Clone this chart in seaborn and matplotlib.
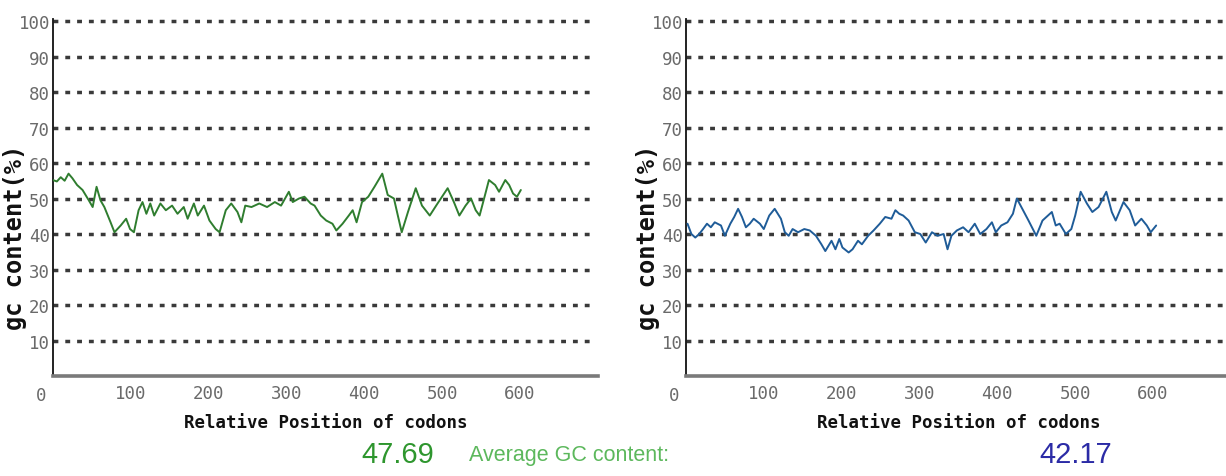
import matplotlib
matplotlib.use("Agg")
import matplotlib.pyplot as plt
import matplotlib.transforms as mtransforms
import numpy as np
import pandas as pd
import seaborn as sns

# GC content along the gene
left_pos = [0, 5, 10, 15, 20, 25, 31, 38, 46, 51, 56, 61, 66, 74, 79, 87, 94, 99, 104, 110,
            115, 120, 125, 130, 138, 145, 153, 160, 168, 173, 181, 186, 194, 201, 209, 214,
            222, 229, 237, 242, 247, 255, 265, 275, 285, 293, 303, 308, 316, 323, 331, 336,
            344, 351, 359, 364, 372, 380, 385, 390, 397, 405, 413, 423, 430, 438, 443, 448,
            456, 466, 474, 484, 494, 507, 515, 522, 530, 537, 543, 548, 555, 560, 568, 573,
            581, 586, 591, 596, 601]
left_gc = [55.2, 54.8, 56.0, 55.0, 57.0, 55.7, 53.8, 52.4, 49.5, 47.6, 53.3, 49.5, 47.6, 43.3,
           40.5, 42.4, 44.3, 41.4, 40.5, 46.7, 49.0, 45.7, 48.6, 45.2, 48.6, 46.7, 48.0, 45.7,
           47.6, 44.3, 48.6, 45.2, 48.0, 43.8, 41.4, 40.5, 46.7, 48.6, 46.2, 43.3, 48.0, 47.6,
           48.6, 47.6, 49.0, 48.0, 51.9, 49.0, 50.0, 50.5, 48.6, 48.0, 45.2, 43.8, 42.9, 41.0,
           42.9, 45.2, 46.7, 43.3, 49.0, 50.5, 53.3, 57.0, 51.0, 50.0, 45.2, 40.5, 46.2, 52.9,
           48.0, 45.2, 48.6, 52.9, 49.0, 45.2, 48.0, 50.0, 46.7, 45.2, 51.0, 55.2, 53.8, 51.9,
           55.2, 53.8, 51.4, 50.5, 52.4]

right_pos = [2, 7, 12, 17, 22, 27, 32, 37, 45, 50, 57, 62, 67, 72, 77, 82, 87, 95, 100, 107,
             114, 122, 127, 132, 137, 144, 152, 159, 167, 174, 179, 187, 192, 197, 201, 209,
             214, 221, 226, 234, 241, 249, 256, 264, 269, 274, 279, 286, 294, 301, 308, 316,
             323, 331, 336, 341, 348, 356, 363, 371, 378, 386, 393, 398, 405, 413, 420, 425,
             433, 440, 450, 458, 465, 470, 475, 480, 488, 495, 500, 507, 515, 522, 530, 540,
             547, 552, 562, 570, 577, 585, 592, 597, 604]
right_gc = [42.9, 40.0, 39.0, 40.0, 41.4, 42.9, 41.9, 43.3, 42.4, 39.5, 42.9, 44.8, 47.1, 44.8,
            41.9, 42.9, 44.3, 42.9, 41.4, 45.2, 47.1, 44.3, 40.5, 39.5, 41.4, 40.5, 41.4, 41.0,
            39.5, 37.1, 35.2, 38.1, 35.7, 38.6, 36.2, 34.8, 35.7, 38.1, 37.1, 39.5, 41.0, 42.9,
            44.8, 44.3, 46.7, 45.7, 45.2, 43.8, 40.5, 40.0, 37.6, 40.5, 39.5, 40.0, 35.7, 39.5,
            41.0, 41.9, 40.5, 42.9, 40.0, 41.4, 43.3, 40.5, 42.4, 43.3, 45.7, 50.0, 46.7, 43.8,
            39.5, 43.8, 45.2, 46.2, 42.4, 42.9, 40.0, 41.4, 45.2, 51.9, 48.6, 46.2, 47.6, 51.9,
            46.2, 43.8, 49.0, 46.7, 42.4, 44.3, 42.4, 40.5, 42.4]

left_avg = "47.69"
right_avg = "42.17"
y_ticks = [10, 20, 30, 40, 50, 60, 70, 80, 90, 100]
x_ticks = [0, 100, 200, 300, 400, 500, 600]

sns.set_style("white")
plt.rcParams["font.family"] = ["DejaVu Sans Mono"]

fig = plt.figure(figsize=(12.26, 4.77), dpi=100)
ax1 = fig.add_axes([0.0432, 0.2096, 0.4445, 0.748])
ax2 = fig.add_axes([0.5595, 0.2096, 0.4445, 0.748])

sans = ["Liberation Sans", "DejaVu Sans"]

for ax, pos, gc, col in [(ax1, left_pos, left_gc, "#2f7d2f"),
                         (ax2, right_pos, right_gc, "#1f5c98")]:
    df = pd.DataFrame({"pos": pos, "gc": gc})
    # dotted grid lines
    for yv in y_ticks:
        ax.axhline(yv, xmin=0, xmax=0.99, color="#3a3a3a", lw=2.5,
                   dashes=(1.4, 2.0), zorder=1)
    sns.lineplot(data=df, x="pos", y="gc", ax=ax, color=col, lw=1.4, zorder=3)
    ax.set_xlim(0, 700)
    ax.set_ylim(0, 100.5)
    ax.set_xticks(x_ticks)
    ax.set_yticks(y_ticks)
    ax.tick_params(axis="both", direction="in", length=3, width=1, color="#222",
                   labelsize=12.5, labelcolor="#6a6a6a", pad=2)
    ax.tick_params(axis="x", pad=6)
    for s in ["top", "right"]:
        ax.spines[s].set_visible(False)
    ax.spines["left"].set_color("#111")
    ax.spines["left"].set_linewidth(1.3)
    ax.spines["bottom"].set_color("#7a7a7a")
    ax.spines["bottom"].set_linewidth(2.6)
    # the "0" label sits left of the origin
    lab0 = ax.get_xticklabels()[0]
    lab0.set_transform(lab0.get_transform() +
                       mtransforms.ScaledTranslation(-0.12, -0.02, fig.dpi_scale_trans))
    ax.set_xlabel("Relative Position of codons", fontsize=12.5, fontweight="bold",
                  color="#111", labelpad=6)
    ax.set_ylabel("")

fig.text(0.0122, 0.503, "gc content(%)", rotation=90, ha="center", va="center",
         fontsize=17, fontweight="bold", color="#111")
fig.text(0.5285, 0.503, "gc content(%)", rotation=90, ha="center", va="center",
         fontsize=17, fontweight="bold", color="#111")

fig.text(0.3246, 0.046, left_avg, ha="center", va="center", fontsize=21,
         color="#2e962e", family=sans)
fig.text(0.4640, 0.046, "Average GC content:", ha="center", va="center", fontsize=15.5,
         color="#5cb85c", family=sans)
fig.text(0.8777, 0.046, right_avg, ha="center", va="center", fontsize=21,
         color="#2b2ba6", family=sans)

fig.savefig("out.png", dpi=100, facecolor="white")
